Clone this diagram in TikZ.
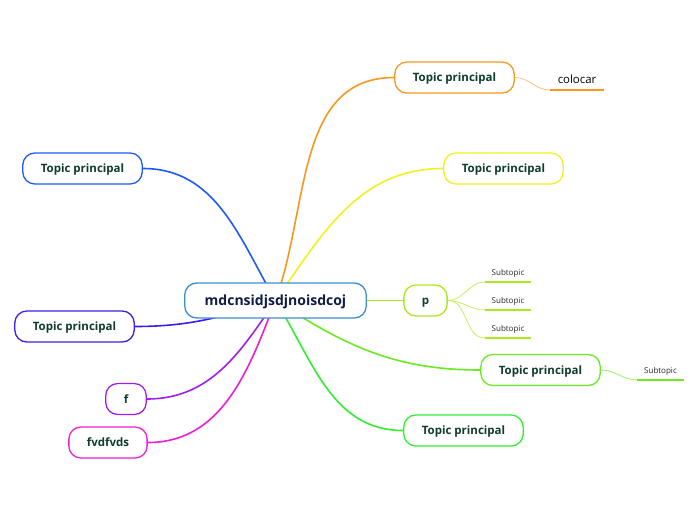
\documentclass[tikz,border=0pt]{standalone}
\usepackage{fontspec}
\setmainfont{Open Sans}
\usetikzlibrary{backgrounds}
\definecolor{RootColor}  {RGB}{60,140,210}
\definecolor{RootText}   {RGB}{15,30,70}
\definecolor{TopicText}  {RGB}{15,60,45}
\definecolor{OrangeColor}{RGB}{247,152,30}
\definecolor{YellowColor}{RGB}{242,240,30}
\definecolor{LimeColor}  {RGB}{170,232,30}
\definecolor{GreenColor} {RGB}{105,235,30}
\definecolor{LeafColor}  {RGB}{50,238,50}
\definecolor{BlueColor}  {RGB}{30,90,250}
\definecolor{IndigoColor}{RGB}{60,30,230}
\definecolor{PurpleColor}{RGB}{160,30,240}
\definecolor{PinkColor}  {RGB}{240,30,210}

\begin{document}
\begin{tikzpicture}[x=1pt,y=1pt,
  every node/.style={align=center,font=\bfseries\fontsize{11.5}{13}\selectfont,text=TopicText},
  topic/.style={draw,rounded corners=12pt,fill=white,line width=1.3pt,minimum height=31pt,inner xsep=18pt,text height=9pt,text depth=1pt},
  subtopic/.style={font=\fontsize{8}{9}\selectfont,text=black!85,minimum width=46pt,inner xsep=2pt,inner ysep=4pt,anchor=south},
  branch/.style={line width=1.6pt},
  twig/.style={line width=0.8pt}]
\useasboundingbox (0,0) rectangle (696,-520);
\node[topic,draw=RootColor,minimum height=35pt,inner xsep=20pt,font=\bfseries\fontsize{14}{16}\selectfont,text=RootText,text height=11pt] (root) at (275.5,-300.5) {mdcnsidjsdjnoisdcoj};
\node[topic,draw=OrangeColor] (orange) at (454.5,-77.5) {Topic principal};
\node[topic,draw=YellowColor] (yellow) at (503.5,-168.5) {Topic principal};
\node[topic,draw=LimeColor] (p) at (425.5,-300.5) {p};
\node[topic,draw=GreenColor] (green) at (540.5,-370) {Topic principal};
\node[topic,draw=LeafColor] (leaf) at (463.5,-430.5) {Topic principal};
\node[topic,draw=BlueColor] (blue) at (82.5,-168.5) {Topic principal};
\node[topic,draw=IndigoColor] (indigo) at (74.5,-326.5) {Topic principal};
\node[topic,draw=PurpleColor] (f) at (126,-399) {f};
\node[topic,draw=PinkColor] (fv) at (108,-442.5) {fvdfvds};
% subtopics
\node[subtopic,minimum width=54pt,inner ysep=6pt,font=\fontsize{11.4}{13}\selectfont,text=black] (colocar) at (577,-90) {colocar};
\node[subtopic] (s1) at (508,-282) {Subtopic};
\node[subtopic] (s2) at (508,-310) {Subtopic};
\node[subtopic] (s3) at (508,-338) {Subtopic};
\node[subtopic] (s4) at (660.5,-380) {Subtopic};
\begin{scope}[on background layer]
\foreach \n/\c/\o in {orange/OrangeColor/70,yellow/YellowColor/55,p/LimeColor/0,green/GreenColor/-33,leaf/LeafColor/-58}
  \draw[branch,\c] (root.center) to[out=\o,in=180] (\n.west);
\foreach \n/\c/\o in {blue/BlueColor/120,indigo/IndigoColor/197,f/PurpleColor/236,fv/PinkColor/249}
  \draw[branch,\c] (root.center) to[out=\o,in=0] (\n.east);
\end{scope}
\draw[twig,OrangeColor!60] (orange.east) to[out=0,in=180] (colocar.south west);
\draw[line width=2.5pt,OrangeColor] (colocar.south west) -- (colocar.south east);
\foreach \s in {s1,s2,s3} {
  \draw[twig,LimeColor!70] (p.east) to[out=0,in=180] (\s.south west);
  \draw[line width=2.5pt,LimeColor] (\s.south west) -- (\s.south east);
}
\draw[twig,GreenColor!70] (green.east) to[out=0,in=180] (s4.south west);
\draw[line width=2.5pt,GreenColor] (s4.south west) -- (s4.south east);
\end{tikzpicture}
\end{document}
